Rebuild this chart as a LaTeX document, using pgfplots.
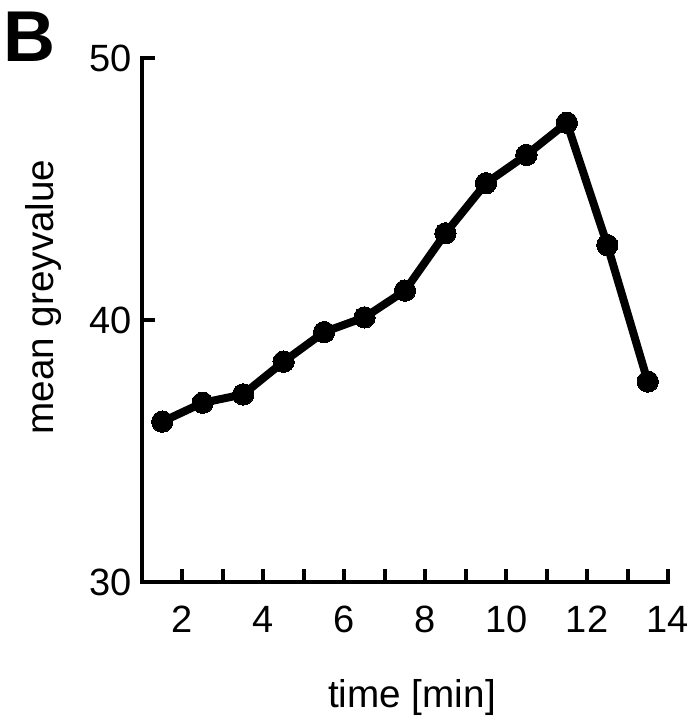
\documentclass[border=0pt]{standalone}
\usepackage{fontspec}
\setmainfont{Liberation Sans}
\usepackage{pgfplots}
\pgfplotsset{compat=1.18}
\begin{document}
\begin{tikzpicture}
\path[use as bounding box] (-106.5pt,-102.75pt) rectangle (413.25pt,436.5pt);
\begin{axis}[
  at={(0pt,0pt)}, anchor=south west,
  scale only axis, width=394.5pt, height=393pt,
  xmin=1, xmax=14, ymin=30, ymax=50,
  axis x line=bottom, axis y line=left,
  axis line style={-, line width=3pt, line cap=rect},
  xtick={2,4,...,14}, minor xtick={3,5,...,13}, ytick={30,40,50},
  tick align=inside, major tick length=10pt, minor tick length=10pt,
  every tick/.style={line width=3pt, black},
  every minor tick/.style={line width=3pt, black},
  /pgf/number format/assume math mode=true,
  ticklabel style={font=\fontsize{28.5}{34}\selectfont, inner sep=0pt},
  xticklabel style={anchor=base, yshift=-37.5pt},
  yticklabel style={anchor=east, xshift=-7.5pt},
  clip=false,
]
\addplot[black, line width=6pt, line join=round, mark=*, mark size=8pt,
  mark options={solid, fill=black, line width=0pt}] coordinates {
  (1.5,36.12) (2.5,36.84) (3.5,37.16) (4.5,38.41) (5.5,39.54) (6.5,40.10)
  (7.5,41.12) (8.5,43.31) (9.5,45.22) (10.5,46.30) (11.5,47.53)
  (12.5,42.86) (13.5,37.65)
};
\end{axis}
\node[anchor=base west, inner sep=0pt, font=\fontsize{54}{60}\selectfont\bfseries] at (-104.25pt,390pt) {B};
\node[rotate=90, anchor=base, inner sep=0pt, font=\fontsize{29}{34}\selectfont] at (-66pt,213.75pt) {mean greyvalue};
\node[anchor=base, inner sep=0pt, font=\fontsize{29}{34}\selectfont] at (202.5pt,-93.75pt) {time [min]};
\end{tikzpicture}
\end{document}
